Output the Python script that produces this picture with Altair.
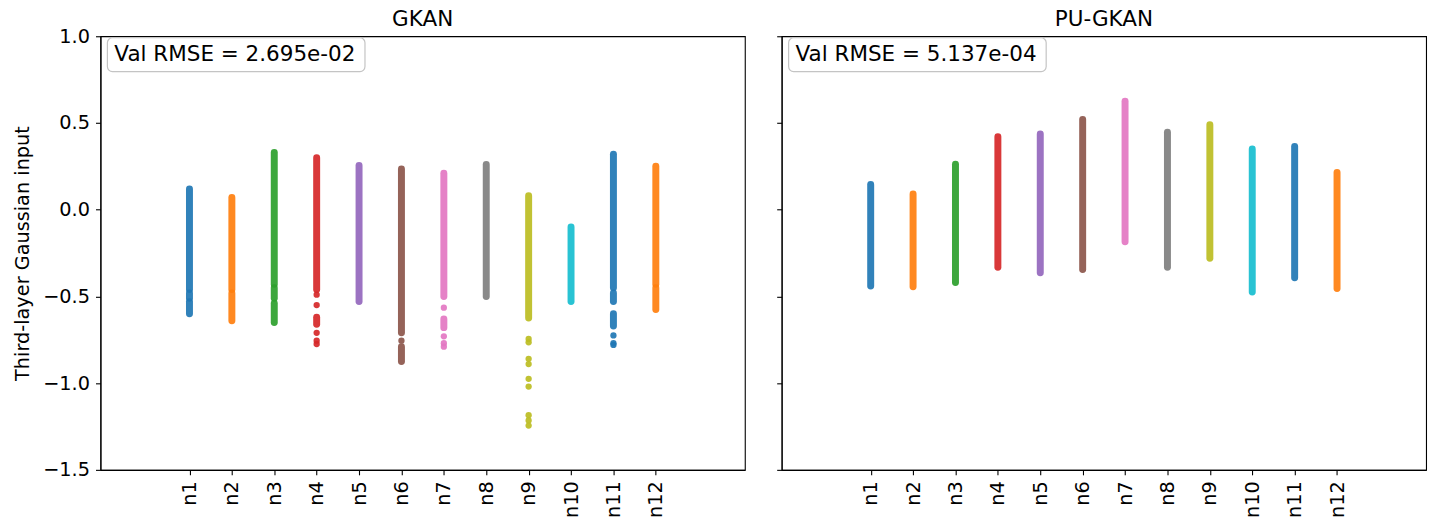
import altair as alt
import pandas as pd

# ---------------- data ----------------
neurons = ["n1", "n2", "n3", "n4", "n5", "n6", "n7", "n8", "n9", "n10", "n11", "n12"]
tab10 = ["#1f77b4", "#ff7f0e", "#2ca02c", "#d62728", "#9467bd",
         "#8c564b", "#e377c2", "#7f7f7f", "#bcbd22", "#17becf"]
neuron_colors = tab10 + tab10[:2]

panel_titles = ["GKAN", "PU-GKAN"]
rmse_labels = ["Val RMSE = 2.695e-02", "Val RMSE = 5.137e-04"]

# GKAN: dense runs of points (neuron number, top value, bottom value)
gkan_seg_neuron = [1, 1, 1, 2, 2, 3, 3, 3, 4, 4, 5, 6, 6, 7, 7, 8, 9, 10, 11, 11, 11, 12, 12]
gkan_seg_top = [0.12, -0.48, -0.53, 0.07, -0.48, 0.33, -0.45, -0.54, 0.30, -0.62, 0.255,
                0.235, -0.79, 0.21, -0.63, 0.26, 0.08, -0.10, 0.32, -0.48, -0.60, 0.25, -0.45]
gkan_seg_bottom = [-0.46, -0.51, -0.60, -0.46, -0.64, -0.43, -0.51, -0.65, -0.46, -0.66, -0.53,
                   -0.71, -0.875, -0.50, -0.68, -0.50, -0.625, -0.53, -0.45, -0.53, -0.67, -0.43, -0.575]

# GKAN: isolated points
gkan_pt_neuron = [4, 4, 4, 4, 4, 6, 7, 7, 7, 7, 9, 9, 9, 9, 9, 9, 9, 9, 9, 11, 11, 11]
gkan_pt_value = [-0.49, -0.55, -0.71, -0.755, -0.775, -0.755, -0.565, -0.73, -0.77, -0.79,
                 -0.745, -0.765, -0.86, -0.89, -0.975, -1.02, -1.185, -1.215, -1.245,
                 -0.725, -0.77, -0.78]

# PU-GKAN: dense runs
pu_seg_neuron = [1, 2, 3, 4, 5, 6, 7, 8, 9, 10, 11, 12]
pu_seg_top = [0.145, 0.09, 0.262, 0.42, 0.436, 0.52, 0.625, 0.447, 0.49, 0.35, 0.365, 0.214]
pu_seg_bottom = [-0.44, -0.445, -0.42, -0.332, -0.363, -0.345, -0.185, -0.332, -0.28, -0.474, -0.393, -0.455]

pu_pt_neuron = []
pu_pt_value = []

y_ticks = [-1.5, -1.0, -0.5, 0.0, 0.5, 1.0]

# ---------------- chart ----------------
FONT = "DejaVu Sans"
W, H = 648, 436
label_expr = "[" + ",".join(f"'{n}'" for n in neurons) + "][datum.value - 1]"


def seg_frame(neu, top, bot):
    return pd.DataFrame({"pos": neu, "top": top, "bottom": bot,
                         "color": [neuron_colors[n - 1] for n in neu]})


def pt_frame(neu, val):
    return pd.DataFrame({"pos": neu, "value": val,
                         "color": [neuron_colors[n - 1] for n in neu]})


def panel(i, segs, pts, show_y_labels):
    xscale = alt.Scale(domain=[-1.1, 14.1], nice=False, zero=False)
    yscale = alt.Scale(domain=[-1.5, 1.0], nice=False, zero=False)
    xaxis = alt.Axis(values=list(range(1, 13)), labelExpr=label_expr, labelAngle=-90,
                     title=None, grid=False)
    if show_y_labels:
        yaxis = alt.Axis(values=y_ticks, format=".1f", title="Third-layer Gaussian input",
                         grid=False, titlePadding=10)
    else:
        yaxis = alt.Axis(values=y_ticks, labels=False, title=None, grid=False)

    rules = alt.Chart(segs).mark_rule(strokeWidth=7, strokeCap="round", opacity=0.92).encode(
        x=alt.X("pos:Q", scale=xscale, axis=xaxis),
        y=alt.Y("top:Q", scale=yscale, axis=yaxis),
        y2="bottom:Q",
        color=alt.Color("color:N", scale=None),
    )
    layers = [rules]
    if len(pts):
        dots = alt.Chart(pts).mark_circle(size=40, opacity=0.92).encode(
            x=alt.X("pos:Q", scale=xscale, axis=xaxis),
            y=alt.Y("value:Q", scale=yscale, axis=yaxis),
            color=alt.Color("color:N", scale=None),
        )
        layers.append(dots)
    one = alt.Data(values=[{}])
    box = alt.Chart(one).mark_rect(
        fill="white", stroke="#c4c4c4", strokeWidth=1.2, cornerRadius=5
    ).encode(x=alt.value(7), x2=alt.value(266), y=alt.value(1.5), y2=alt.value(35.5))
    txt = alt.Chart(one).mark_text(
        align="left", baseline="alphabetic", fontSize=21.6, font=FONT, color="black"
    ).encode(x=alt.value(14), y=alt.value(24.5), text=alt.value(rmse_labels[i]))
    ttl = alt.Chart(one).mark_text(
        align="center", baseline="alphabetic", fontSize=21.6, font=FONT, color="black"
    ).encode(x=alt.value(W / 2), y=alt.value(-10), text=alt.value(panel_titles[i]))
    layers += [box, txt, ttl]
    return alt.layer(*layers).properties(width=W, height=H)


left = panel(0, seg_frame(gkan_seg_neuron, gkan_seg_top, gkan_seg_bottom),
             pt_frame(gkan_pt_neuron, gkan_pt_value), True)
right = panel(1, seg_frame(pu_seg_neuron, pu_seg_top, pu_seg_bottom),
              pt_frame(pu_pt_neuron, pu_pt_value), False)

chart = alt.hconcat(left, right, spacing=29).properties(
    padding={"left": 12, "top": 7, "right": 12, "bottom": 5},
    background="white",
).configure_view(stroke="black", strokeWidth=1.1).configure_axis(
    domainColor="black", domainWidth=1.1, tickColor="black", tickWidth=1.1, tickSize=5,
    labelFont=FONT, labelFontSize=19.4, labelColor="black", labelPadding=6,
    titleFont=FONT, titleFontSize=19.4, titleFontWeight="normal", titleColor="black",
)

chart.save("out.html", embed_options={"renderer": "svg", "actions": False})
